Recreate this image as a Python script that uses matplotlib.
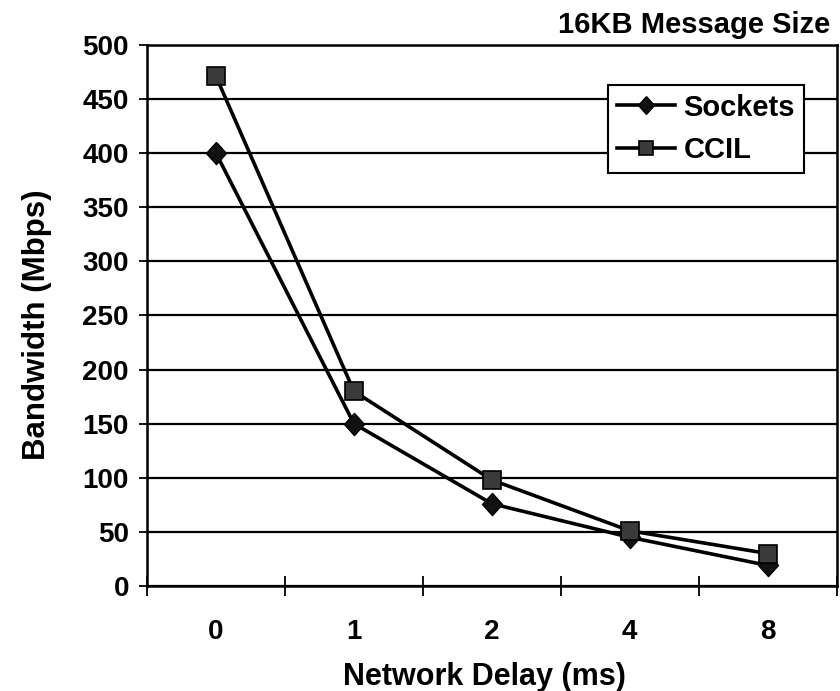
import numpy as np
import matplotlib.pyplot as plt

plt.rcParams['font.family'] = ['Liberation Sans', 'DejaVu Sans']
plt.rcParams['font.weight'] = 'bold'

delays = ['0', '1', '2', '4', '8']
sockets = [400, 150, 76, 45, 19]
ccil = [471, 180, 98, 51, 30]

# diamond a little taller than wide, like the original
diamond = [(0, 1), (0.9, 0), (0, -1), (-0.9, 0), (0, 1)]

fig = plt.figure(figsize=(8.4, 6.91), dpi=100)
ax = fig.add_axes([0.175, 0.152, 0.821, 0.783])

x = np.arange(len(delays))
ax.plot(x, sockets, color='black', lw=2.6, marker=diamond, ms=16,
        mfc='#111111', mec='black', label='Sockets', zorder=3)
ax.plot(x, ccil, color='black', lw=2.6, marker='s', ms=13,
        mfc='#3a3a3a', mec='black', mew=1.2, label='CCIL', zorder=3)

ax.set_xlim(-0.5, len(delays) - 0.5)
ax.set_ylim(0, 500)
ax.set_yticks(np.arange(0, 501, 50))
ax.yaxis.grid(True, color='black', lw=1.6)
ax.set_axisbelow(True)

# category boundaries get the tick marks, centers get the labels
ax.set_xticks(np.arange(-0.5, len(delays)), minor=False)
ax.set_xticklabels([])
ax.set_xticks(x, minor=True)
ax.set_xticklabels(delays, minor=True)
ax.tick_params(axis='x', which='major', direction='inout', length=14, width=1.3)
ax.tick_params(axis='x', which='minor', length=0, pad=24, labelsize=20)
ax.tick_params(axis='y', direction='out', length=6, width=1.3, labelsize=20, pad=7)

for s in ax.spines.values():
    s.set_linewidth(1.8)

ax.set_xlabel('Network Delay (ms)', fontsize=22, fontweight='bold')
ax.xaxis.set_label_coords(0.49, -0.14)
ax.set_ylabel('Bandwidth (Mbps)', fontsize=22.5, fontweight='bold')
ax.yaxis.set_label_coords(-0.138, 0.482)
fig.text(0.988, 0.964, '16KB Message Size', ha='right', va='center',
         fontsize=21, fontweight='bold')

leg = ax.legend(loc='upper right', bbox_to_anchor=(0.952, 0.926), fontsize=21,
                frameon=True, fancybox=False, edgecolor='black', framealpha=1,
                handlelength=2.0, handletextpad=0.28, borderpad=0.3,
                labelspacing=0.5, borderaxespad=0, markerscale=0.8)
leg.get_frame().set_linewidth(1.5)

fig.savefig('out.png')
